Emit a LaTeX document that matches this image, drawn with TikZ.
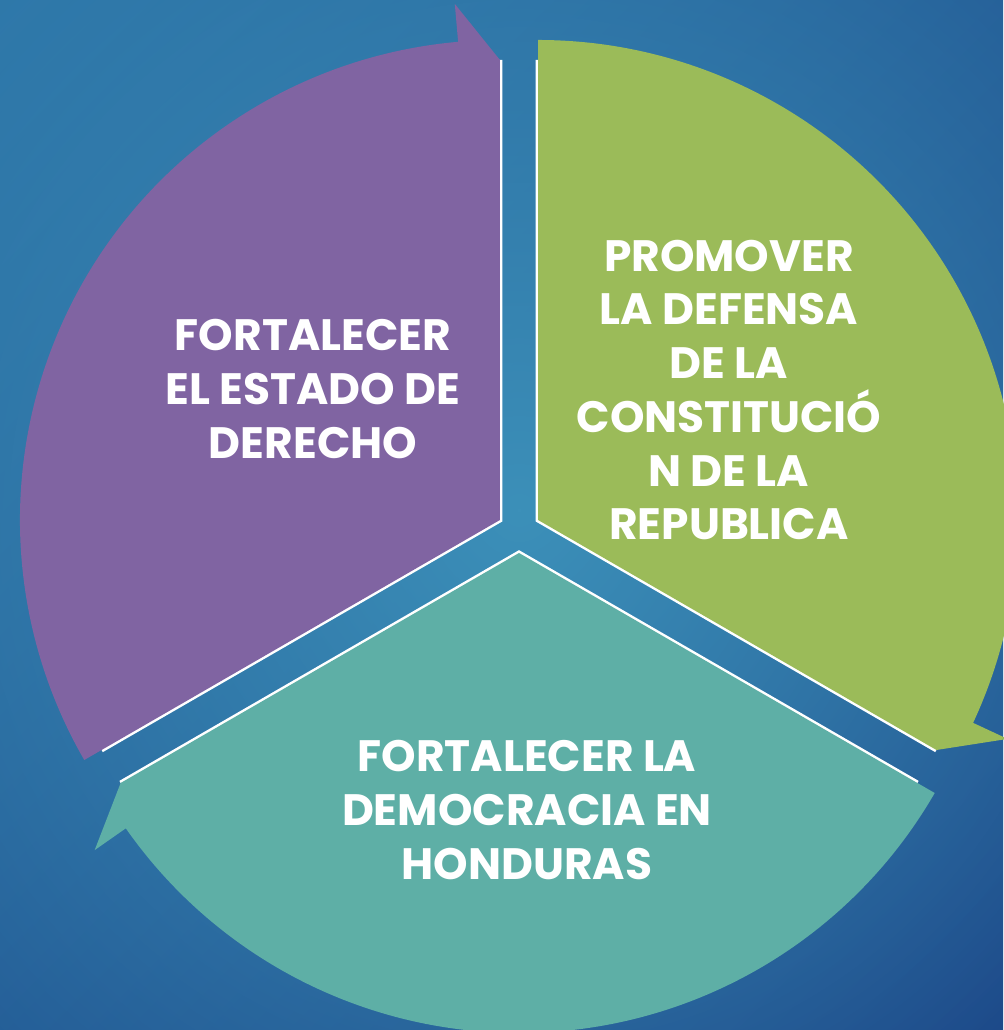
\documentclass[tikz,border=0pt]{standalone}
\usepackage{fontspec}
\setmainfont{Poppins}
\usepackage{tikz}
\usetikzlibrary{fadings}
\definecolor{bglight}{HTML}{2F7AAB}
\definecolor{bgmid}{HTML}{265D99}
\definecolor{bgdark}{HTML}{1A4284}
\definecolor{bgglow}{HTML}{3C90B9}
\definecolor{segpurple}{HTML}{8064A2}
\definecolor{seggreen}{HTML}{9BBB59}
\definecolor{segteal}{HTML}{5EAFA6}
\tikzfading[name=glowfade, inner color=transparent!0, outer color=transparent!100]
\tikzstyle{segtext} = [text=white, align=center, font=\bfseries\fontsize{25}{30.6}\selectfont]
\tikzstyle{seam} = [draw=white, line width=2.8pt, line join=miter]

\begin{document}
\begin{tikzpicture}[x=0.02cm, y=0.02cm]
	\useasboundingbox (0,0) rectangle (1003,1030);
	% We start by painting the blue background
	\begin{scope}
	\clip (0,0) rectangle (1003,1030);
	\shade[top color=bglight, middle color=bgmid, bottom color=bgdark, shading angle=45] (-299,-285) rectangle (1301,1315);
	\fill[bgglow, path fading=glowfade] (519,520) circle (760);
	\end{scope}
	% The three segments of the cycle sit round one centre, each pushed out
	% a little. The white seam goes under the fill so only its outer half shows.
	\begin{scope}[shift={(519,499)}]
	\begin{scope}[shift={(150:22)}]
	\draw [seam] (90:460) -- (0,0) -- (210:460);
	\fill [segpurple] (0,0) -- (210:480) arc[start angle=210, end angle=95, radius=480] -- (95:518) -- (90:460) -- cycle;
	\end{scope}
	\begin{scope}[shift={(30:22)}]
	\draw [seam] (-30:460) -- (0,0) -- (90:460);
	\fill [seggreen] (0,0) -- (90:480) arc[start angle=90, end angle=-25, radius=480] -- (-25:518) -- (-30:460) -- cycle;
	\end{scope}
	\begin{scope}[shift={(270:22)}]
	\draw [seam] (210:460) -- (0,0) -- (330:460);
	\fill [segteal] (0,0) -- (330:480) arc[start angle=330, end angle=215, radius=480] -- (215:518) -- (210:460) -- cycle;
	\end{scope}
	\end{scope}
	% Once the segments are placed, the texts go on top.
	\node [segtext] (estado) at (313,641) {FORTALECER\\EL ESTADO DE\\DERECHO};
	\node [segtext] (constitucion) at (729,640) {PROMOVER\\LA DEFENSA\\DE LA\\CONSTITUCIÓ\\N DE LA\\REPUBLICA};
	\node [segtext] (democracia) at (527,220) {FORTALECER LA\\DEMOCRACIA EN\\HONDURAS};
\end{tikzpicture}
\end{document}
